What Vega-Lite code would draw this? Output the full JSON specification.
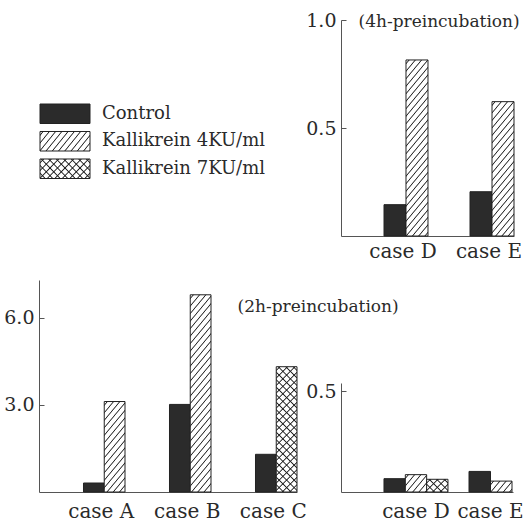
{
  "$schema": "https://vega.github.io/schema/vega-lite/v6.json",
  "width": 525,
  "height": 521,
  "autosize": "none",
  "padding": 0,
  "background": "white",
  "config": {
    "view": {"stroke": null},
    "axis": {"grid": false, "labelFont": "DejaVu Serif", "titleFont": "DejaVu Serif", "labelColor": "#2a2a2a", "titleColor": "#2a2a2a", "domainColor": "#555", "tickColor": "#555", "domainWidth": 1, "titleFontWeight": "normal"},
    "axisX": {"ticks": false, "labelFontSize": 20, "labelAngle": 0},
    "axisY": {"tickSize": -5, "labelPadding": 10, "labelFontSize": 19, "format": ".1f", "labelBaseline": "middle"}
  },
  "params": [
    {"name": "hatch", "value": [
      {"offset":0.010,"color":"rgba(0,0,0,0)"},{"offset":0.015,"color":"#222"},{"offset":0.020,"color":"rgba(0,0,0,0)"},
      {"offset":0.040,"color":"rgba(0,0,0,0)"},{"offset":0.045,"color":"#222"},{"offset":0.050,"color":"rgba(0,0,0,0)"},
      {"offset":0.070,"color":"rgba(0,0,0,0)"},{"offset":0.075,"color":"#222"},{"offset":0.080,"color":"rgba(0,0,0,0)"},
      {"offset":0.100,"color":"rgba(0,0,0,0)"},{"offset":0.105,"color":"#222"},{"offset":0.110,"color":"rgba(0,0,0,0)"},
      {"offset":0.130,"color":"rgba(0,0,0,0)"},{"offset":0.135,"color":"#222"},{"offset":0.140,"color":"rgba(0,0,0,0)"},
      {"offset":0.160,"color":"rgba(0,0,0,0)"},{"offset":0.165,"color":"#222"},{"offset":0.170,"color":"rgba(0,0,0,0)"},
      {"offset":0.190,"color":"rgba(0,0,0,0)"},{"offset":0.195,"color":"#222"},{"offset":0.200,"color":"rgba(0,0,0,0)"},
      {"offset":0.220,"color":"rgba(0,0,0,0)"},{"offset":0.225,"color":"#222"},{"offset":0.230,"color":"rgba(0,0,0,0)"},
      {"offset":0.250,"color":"rgba(0,0,0,0)"},{"offset":0.255,"color":"#222"},{"offset":0.260,"color":"rgba(0,0,0,0)"},
      {"offset":0.280,"color":"rgba(0,0,0,0)"},{"offset":0.285,"color":"#222"},{"offset":0.290,"color":"rgba(0,0,0,0)"},
      {"offset":0.310,"color":"rgba(0,0,0,0)"},{"offset":0.315,"color":"#222"},{"offset":0.320,"color":"rgba(0,0,0,0)"},
      {"offset":0.340,"color":"rgba(0,0,0,0)"},{"offset":0.345,"color":"#222"},{"offset":0.350,"color":"rgba(0,0,0,0)"},
      {"offset":0.370,"color":"rgba(0,0,0,0)"},{"offset":0.375,"color":"#222"},{"offset":0.380,"color":"rgba(0,0,0,0)"},
      {"offset":0.400,"color":"rgba(0,0,0,0)"},{"offset":0.405,"color":"#222"},{"offset":0.410,"color":"rgba(0,0,0,0)"},
      {"offset":0.430,"color":"rgba(0,0,0,0)"},{"offset":0.435,"color":"#222"},{"offset":0.440,"color":"rgba(0,0,0,0)"},
      {"offset":0.460,"color":"rgba(0,0,0,0)"},{"offset":0.465,"color":"#222"},{"offset":0.470,"color":"rgba(0,0,0,0)"},
      {"offset":0.490,"color":"rgba(0,0,0,0)"},{"offset":0.495,"color":"#222"},{"offset":0.500,"color":"rgba(0,0,0,0)"},
      {"offset":0.520,"color":"rgba(0,0,0,0)"},{"offset":0.525,"color":"#222"},{"offset":0.530,"color":"rgba(0,0,0,0)"},
      {"offset":0.550,"color":"rgba(0,0,0,0)"},{"offset":0.555,"color":"#222"},{"offset":0.560,"color":"rgba(0,0,0,0)"},
      {"offset":0.580,"color":"rgba(0,0,0,0)"},{"offset":0.585,"color":"#222"},{"offset":0.590,"color":"rgba(0,0,0,0)"},
      {"offset":0.610,"color":"rgba(0,0,0,0)"},{"offset":0.615,"color":"#222"},{"offset":0.620,"color":"rgba(0,0,0,0)"},
      {"offset":0.640,"color":"rgba(0,0,0,0)"},{"offset":0.645,"color":"#222"},{"offset":0.650,"color":"rgba(0,0,0,0)"},
      {"offset":0.670,"color":"rgba(0,0,0,0)"},{"offset":0.675,"color":"#222"},{"offset":0.680,"color":"rgba(0,0,0,0)"},
      {"offset":0.700,"color":"rgba(0,0,0,0)"},{"offset":0.705,"color":"#222"},{"offset":0.710,"color":"rgba(0,0,0,0)"},
      {"offset":0.730,"color":"rgba(0,0,0,0)"},{"offset":0.735,"color":"#222"},{"offset":0.740,"color":"rgba(0,0,0,0)"},
      {"offset":0.760,"color":"rgba(0,0,0,0)"},{"offset":0.765,"color":"#222"},{"offset":0.770,"color":"rgba(0,0,0,0)"},
      {"offset":0.790,"color":"rgba(0,0,0,0)"},{"offset":0.795,"color":"#222"},{"offset":0.800,"color":"rgba(0,0,0,0)"},
      {"offset":0.820,"color":"rgba(0,0,0,0)"},{"offset":0.825,"color":"#222"},{"offset":0.830,"color":"rgba(0,0,0,0)"},
      {"offset":0.850,"color":"rgba(0,0,0,0)"},{"offset":0.855,"color":"#222"},{"offset":0.860,"color":"rgba(0,0,0,0)"},
      {"offset":0.880,"color":"rgba(0,0,0,0)"},{"offset":0.885,"color":"#222"},{"offset":0.890,"color":"rgba(0,0,0,0)"},
      {"offset":0.910,"color":"rgba(0,0,0,0)"},{"offset":0.915,"color":"#222"},{"offset":0.920,"color":"rgba(0,0,0,0)"},
      {"offset":0.940,"color":"rgba(0,0,0,0)"},{"offset":0.945,"color":"#222"},{"offset":0.950,"color":"rgba(0,0,0,0)"},
      {"offset":0.970,"color":"rgba(0,0,0,0)"},{"offset":0.975,"color":"#222"},{"offset":0.980,"color":"rgba(0,0,0,0)"}
    ]}
  ],
  "data": {"values": [
    {"pre": "4h", "case": "case D", "series": "Control", "value": 0.145},
    {"pre": "4h", "case": "case D", "series": "Kallikrein 4KU/ml", "value": 0.815},
    {"pre": "4h", "case": "case E", "series": "Control", "value": 0.205},
    {"pre": "4h", "case": "case E", "series": "Kallikrein 4KU/ml", "value": 0.622},
    {"pre": "2h", "case": "case A", "series": "Control", "value": 0.31},
    {"pre": "2h", "case": "case A", "series": "Kallikrein 4KU/ml", "value": 3.12},
    {"pre": "2h", "case": "case B", "series": "Control", "value": 3.02},
    {"pre": "2h", "case": "case B", "series": "Kallikrein 4KU/ml", "value": 6.8},
    {"pre": "2h", "case": "case C", "series": "Control", "value": 1.3},
    {"pre": "2h", "case": "case C", "series": "Kallikrein 7KU/ml", "value": 4.32},
    {"pre": "2h", "case": "case D", "series": "Control", "value": 0.066},
    {"pre": "2h", "case": "case D", "series": "Kallikrein 4KU/ml", "value": 0.086},
    {"pre": "2h", "case": "case D", "series": "Kallikrein 7KU/ml", "value": 0.063},
    {"pre": "2h", "case": "case E", "series": "Control", "value": 0.102},
    {"pre": "2h", "case": "case E", "series": "Kallikrein 4KU/ml", "value": 0.054}
  ]},
  "resolve": {"scale": {"x": "independent", "y": "independent", "xOffset": "independent"}},
  "layer": [
    {
      "transform": [
        {"filter": "datum.pre == '4h'"},
        {"window": [{"op": "row_number", "as": "slot"}], "groupby": ["case"], "sort": [{"field": "series", "order": "ascending"}]}
      ],
      "encoding": {
        "x": {"field": "case", "type": "nominal", "scale": {"type": "band", "domain": ["case D", "case E"], "range": [341, 514], "paddingInner": 0.4884, "paddingOuter": 0.25, "align": 1, "round": false}, "axis": {"orient": "bottom", "offset": -285, "labelPadding": 5, "labelOffset": -3, "title": null}},
        "xOffset": {"field": "slot", "type": "ordinal", "scale": {"type": "band", "domain": [1, 2], "paddingInner": 0, "paddingOuter": 0}},
        "y": {"field": "value", "type": "quantitative", "scale": {"domain": [0, 1], "range": [236, 20], "nice": false}, "axis": {"orient": "left", "offset": -341, "values": [0.5, 1], "title": "(4h-preincubation)", "titleX": 17, "titleY": 21, "titleAngle": 0, "titleAlign": "left", "titleBaseline": "middle", "titleFontSize": 17}}
      },
      "layer": [
        {"mark": {"type": "bar", "stroke": "#222", "strokeWidth": 1}, "encoding": {"fill": {"condition": {"test": "datum.series == 'Control'", "value": "#2b2b2b"}, "value": "white"}}},
        {"transform": [{"filter": "datum.series == 'Kallikrein 4KU/ml'"}], "mark": {"type": "bar", "strokeWidth": 0, "fill": {"expr": "{gradient: 'linear', x1: 0, y1: 0, x2: 26.4*250/(696.96+pow(datum.value*216,2)), y2: datum.value*216*250/(696.96+pow(datum.value*216,2)), stops: hatch}"}}}
      ]
    },
    {
      "transform": [
        {"filter": "datum.pre == '2h' && (datum['case'] == 'case A' || datum['case'] == 'case B' || datum['case'] == 'case C')"},
        {"window": [{"op": "row_number", "as": "slot"}], "groupby": ["case"], "sort": [{"field": "series", "order": "ascending"}]}
      ],
      "encoding": {
        "x": {"field": "case", "type": "nominal", "scale": {"type": "band", "domain": ["case A", "case B", "case C"], "range": [39, 297], "paddingInner": 0.5174, "paddingOuter": 0.2587, "align": 1, "round": false}, "axis": {"orient": "bottom", "offset": -29, "labelPadding": 9, "labelOffset": -3, "title": null}},
        "xOffset": {"field": "slot", "type": "ordinal", "scale": {"type": "band", "domain": [1, 2], "paddingInner": 0, "paddingOuter": 0}},
        "y": {"field": "value", "type": "quantitative", "scale": {"domain": [0, 7.31], "range": [492, 280], "nice": false}, "axis": {"orient": "left", "offset": -39, "values": [3, 6], "title": "(2h-preincubation)", "titleX": 198, "titleY": 306, "titleAngle": 0, "titleAlign": "left", "titleBaseline": "middle", "titleFontSize": 17}}
      },
      "layer": [
        {"mark": {"type": "bar", "stroke": "#222", "strokeWidth": 1}, "encoding": {"fill": {"condition": {"test": "datum.series == 'Control'", "value": "#2b2b2b"}, "value": "white"}}},
        {"transform": [{"filter": "datum.series == 'Kallikrein 4KU/ml'"}], "mark": {"type": "bar", "strokeWidth": 0, "fill": {"expr": "{gradient: 'linear', x1: 0, y1: 0, x2: 24.9*250/(620.01+pow(datum.value*29,2)), y2: datum.value*29*250/(620.01+pow(datum.value*29,2)), stops: hatch}"}}},
        {"transform": [{"filter": "datum.series == 'Kallikrein 7KU/ml'"}], "mark": {"type": "bar", "strokeWidth": 0, "fill": {"expr": "{gradient: 'linear', x1: 0, y1: 0, x2: 20.75*250/(430.56+pow(datum.value*29,2)), y2: datum.value*29*250/(430.56+pow(datum.value*29,2)), stops: hatch}"}}},
        {"transform": [{"filter": "datum.series == 'Kallikrein 7KU/ml'"}], "mark": {"type": "bar", "strokeWidth": 0, "fill": {"expr": "{gradient: 'linear', x1: 1, y1: 0, x2: 1-20.75*250/(430.56+pow(datum.value*29,2)), y2: datum.value*29*250/(430.56+pow(datum.value*29,2)), stops: hatch}"}}}
      ]
    },
    {
      "transform": [
        {"filter": "datum.pre == '2h' && (datum['case'] == 'case D' || datum['case'] == 'case E')"},
        {"window": [{"op": "row_number", "as": "slot"}], "groupby": ["case"], "sort": [{"field": "series", "order": "ascending"}]}
      ],
      "encoding": {
        "y": {"field": "value", "type": "quantitative", "scale": {"domain": [0, 0.54], "range": [492, 383], "nice": false}, "axis": {"orient": "left", "offset": -341, "values": [0.5], "title": null}}
      },
      "resolve": {"scale": {"x": "independent", "xOffset": "independent"}},
      "layer": [
        {
          "transform": [{"filter": "datum['case'] == 'case D'"}],
          "encoding": {
            "x": {"field": "case", "type": "nominal", "scale": {"type": "band", "domain": ["case D"], "range": [341, 513], "paddingInner": 0, "paddingOuter": 0.84375, "align": 0.398, "round": false}, "axis": {"orient": "bottom", "offset": -29, "labelPadding": 9, "title": null}},
            "xOffset": {"field": "slot", "type": "ordinal", "scale": {"type": "band", "domain": [1, 2, 3], "paddingInner": 0, "paddingOuter": 0}}
          },
          "layer": [
            {"mark": {"type": "bar", "stroke": "#222", "strokeWidth": 1}, "encoding": {"fill": {"condition": {"test": "datum.series == 'Control'", "value": "#2b2b2b"}, "value": "white"}}},
            {"transform": [{"filter": "datum.series == 'Kallikrein 4KU/ml'"}], "mark": {"type": "bar", "strokeWidth": 0, "fill": {"expr": "{gradient: 'linear', x1: 0, y1: 0, x2: 25.6*250/(655.36+pow(datum.value*201.85,2)), y2: datum.value*201.85*250/(655.36+pow(datum.value*201.85,2)), stops: hatch}"}}},
            {"transform": [{"filter": "datum.series == 'Kallikrein 7KU/ml'"}], "mark": {"type": "bar", "strokeWidth": 0, "fill": {"expr": "{gradient: 'linear', x1: 0, y1: 0, x2: 21.333*250/(455.1+pow(datum.value*201.85,2)), y2: datum.value*201.85*250/(455.1+pow(datum.value*201.85,2)), stops: hatch}"}}},
            {"transform": [{"filter": "datum.series == 'Kallikrein 7KU/ml'"}], "mark": {"type": "bar", "strokeWidth": 0, "fill": {"expr": "{gradient: 'linear', x1: 1, y1: 0, x2: 1-21.333*250/(455.1+pow(datum.value*201.85,2)), y2: datum.value*201.85*250/(455.1+pow(datum.value*201.85,2)), stops: hatch}"}}}
          ]
        },
        {
          "transform": [{"filter": "datum['case'] == 'case E'"}],
          "encoding": {
            "x": {"field": "case", "type": "nominal", "scale": {"type": "band", "domain": ["case E"], "range": [469, 512], "paddingInner": 0, "paddingOuter": 0, "round": false}, "axis": {"orient": "bottom", "offset": -29, "labelPadding": 9, "domain": false, "title": null}},
            "xOffset": {"field": "slot", "type": "ordinal", "scale": {"type": "band", "domain": [1, 2], "paddingInner": 0, "paddingOuter": 0}}
          },
          "layer": [
            {"mark": {"type": "bar", "stroke": "#222", "strokeWidth": 1}, "encoding": {"fill": {"condition": {"test": "datum.series == 'Control'", "value": "#2b2b2b"}, "value": "white"}}},
            {"transform": [{"filter": "datum.series == 'Kallikrein 4KU/ml'"}], "mark": {"type": "bar", "strokeWidth": 0, "fill": {"expr": "{gradient: 'linear', x1: 0, y1: 0, x2: 25.8*250/(665.64+pow(datum.value*201.85,2)), y2: datum.value*201.85*250/(665.64+pow(datum.value*201.85,2)), stops: hatch}"}}}
          ]
        }
      ]
    },
    {
      "transform": [{"aggregate": [{"op": "count", "as": "n"}], "groupby": ["series"]}],
      "encoding": {
        "y": {"field": "series", "type": "nominal", "scale": {"type": "band", "domain": ["Control", "Kallikrein 4KU/ml", "Kallikrein 7KU/ml"], "range": [104, 178.5], "paddingInner": 0.2909, "paddingOuter": 0, "round": false}, "axis": null},
        "x": {"datum": "swatch", "type": "nominal", "scale": {"type": "band", "domain": ["swatch", "label"], "range": [40, 152], "paddingInner": 0.1935, "paddingOuter": 0, "round": false}, "axis": null}
      },
      "layer": [
        {"mark": {"type": "bar", "stroke": "#222", "strokeWidth": 1}, "encoding": {"fill": {"condition": {"test": "datum.series == 'Control'", "value": "#2b2b2b"}, "value": "white"}}},
        {"transform": [{"filter": "datum.series == 'Kallikrein 4KU/ml'"}], "mark": {"type": "bar", "strokeWidth": 0, "fill": {"expr": "{gradient: 'linear', x1: 0, y1: 0, x2: 3.787, y2: 1.199, stops: hatch}"}}},
        {"transform": [{"filter": "datum.series == 'Kallikrein 7KU/ml'"}], "mark": {"type": "bar", "strokeWidth": 0, "fill": {"expr": "{gradient: 'linear', x1: 0, y1: 0, x2: 4.369, y2: 1.66, stops: hatch}"}}},
        {"transform": [{"filter": "datum.series == 'Kallikrein 7KU/ml'"}], "mark": {"type": "bar", "strokeWidth": 0, "fill": {"expr": "{gradient: 'linear', x1: 1, y1: 0, x2: -3.369, y2: 1.66, stops: hatch}"}}},
        {"mark": {"type": "text", "align": "left", "baseline": "middle", "font": "DejaVu Serif", "fontSize": 18, "fill": "#2a2a2a"}, "encoding": {"x": {"datum": "label", "type": "nominal", "bandPosition": 0}, "text": {"field": "series", "type": "nominal"}}}
      ]
    }
  ]
}
